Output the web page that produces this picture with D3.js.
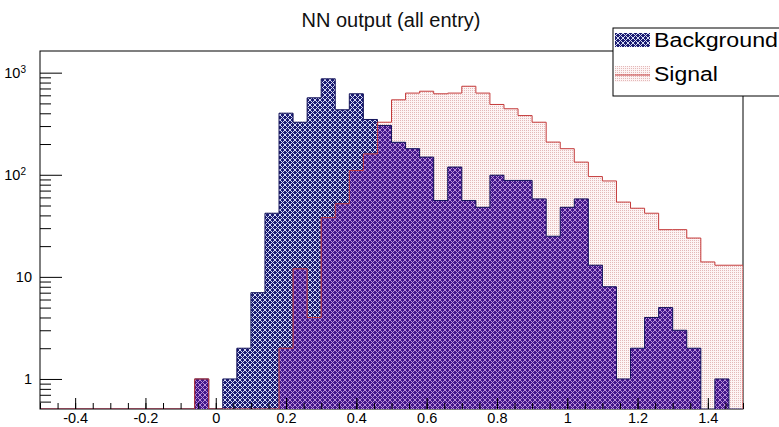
<!DOCTYPE html>
<html>
<head>
<meta charset="utf-8">
<script src="https://cdn.jsdelivr.net/npm/d3@7/dist/d3.min.js"></script>
<style>
  body { margin: 0; background: #fff; }
  svg { display: block; font-family: "Liberation Sans", Arial, Helvetica, sans-serif; }
</style>
</head>
<body>
<div id="chart"></div>
<script>
// DATA: 50 bins of width 0.04 from -0.5 to 1.5
const binLow = -0.5;
const binWidth = 0.04;
const background = [
  0, 0, 0, 0, 0, 0, 0, 0, 0, 0,
  0, 1, 0, 1, 2, 7, 42, 401, 327, 567,
  870, 433, 621, 348, 304, 208, 180, 149, 56, 119,
  56, 48, 99, 88, 88, 58, 25, 48, 58, 13,
  8, 1, 2, 4, 5, 3, 2, 0, 1, 0
];
const signal = [
  0, 0, 0, 0, 0, 0, 0, 0, 0, 0,
  0, 1, 0, 0, 0, 0, 0, 2, 12, 4,
  38, 52, 110, 160, 327, 542, 631, 658, 621, 631,
  736, 631, 488, 443, 380, 327, 209, 180, 133, 96,
  87, 54, 47, 42, 29, 29, 24, 14, 13, 13
];
const seriesNames = ["Background", "Signal"];
const chartTitle = "NN output (all entry)";
const xTickValues = [-0.4, -0.2, 0, 0.2, 0.4, 0.6, 0.8, 1, 1.2, 1.4];
const xTickLabels = ["-0.4", "-0.2", "0", "0.2", "0.4", "0.6", "0.8", "1", "1.2", "1.4"];
const yTickValues = [1, 10, 100, 1000];
const yTickBase = ["1", "10", "10", "10"];
const yTickExp = ["", "", "2", "3"];

var width = 779,
  height = 427;
var frame = { left: 40, right: 743, top: 51, bottom: 409 };

var svg = d3
  .select("#chart")
  .append("svg")
  .attr("width", width)
  .attr("height", height);

// PATTERNS (ROOT-like hatch / dots)
var defs = svg.append("defs");

function crossHatch(id, base, line) {
  var p = defs
    .append("pattern")
    .attr("id", id)
    .attr("patternUnits", "userSpaceOnUse")
    .attr("width", 5)
    .attr("height", 5);
  p.append("rect").attr("width", 5).attr("height", 5).attr("fill", base);
  p.append("path")
    .attr("d", "M0,0L5,5M5,0L0,5")
    .attr("stroke", line)
    .attr("stroke-width", 1);
}
crossHatch("bgPat", "#1b1b72", "#d6dcf4");
crossHatch("ovPat", "#42168a", "#b98fd8");

var dots = defs
  .append("pattern")
  .attr("id", "sigPat")
  .attr("patternUnits", "userSpaceOnUse")
  .attr("width", 2)
  .attr("height", 2);
dots.append("rect").attr("width", 2).attr("height", 2).attr("fill", "#fdf4f4");
dots.append("rect").attr("width", 1).attr("height", 1).attr("fill", "#e3b8b8");

defs
  .append("clipPath")
  .attr("id", "frameClip")
  .append("rect")
  .attr("x", frame.left)
  .attr("y", frame.top)
  .attr("width", frame.right - frame.left)
  .attr("height", frame.bottom - frame.top);

// SCALES
var x = d3.scaleLinear().domain([-0.5, 1.5]).range([frame.left, frame.right]);
var y = d3.scaleLog().domain([0.508, 1630]).range([frame.bottom, frame.top]);
var yFloor = y.domain()[0];

var binEdges = d3.range(background.length + 1).map((i) => binLow + i * binWidth);

function stepPoints(vals) {
  var pts = [];
  vals.forEach((v, i) => {
    pts.push({ x: binEdges[i], v: v });
    pts.push({ x: binEdges[i + 1], v: v });
  });
  return pts;
}

var area = d3
  .area()
  .x((d) => x(d.x))
  .y0(y(yFloor))
  .y1((d) => y(Math.max(d.v, yFloor)));

var line = d3
  .line()
  .x((d) => x(d.x))
  .y((d) => y(Math.max(d.v, yFloor)));

function outline(vals) {
  var pts = stepPoints(vals);
  pts.unshift({ x: binEdges[0], v: 0 });
  pts.push({ x: binEdges[binEdges.length - 1], v: 0 });
  return line(pts);
}

// where both histograms cover the same bin the patterns mix to purple
var overlap = background.map((b, i) => Math.min(b, signal[i]));

// FRAME
svg
  .append("rect")
  .attr("x", frame.left)
  .attr("y", frame.top)
  .attr("width", frame.right - frame.left)
  .attr("height", frame.bottom - frame.top)
  .attr("fill", "white")
  .attr("stroke", "#000")
  .attr("stroke-width", 1);

// HISTOGRAMS
var g = svg.append("g").attr("clip-path", "url(#frameClip)");

g.append("path").attr("d", area(stepPoints(signal))).attr("fill", "url(#sigPat)");
g.append("path").attr("d", area(stepPoints(background))).attr("fill", "url(#bgPat)");
g.append("path").attr("d", area(stepPoints(overlap))).attr("fill", "url(#ovPat)");

g.append("path")
  .attr("d", outline(background))
  .attr("fill", "none")
  .attr("stroke", "#14145a")
  .attr("stroke-width", 1);

g.append("path")
  .attr("d", outline(signal))
  .attr("fill", "none")
  .attr("stroke", "#c43a3a")
  .attr("stroke-width", 1);

// X AXIS
var xMinor = d3.range(-0.5, 1.5001, 0.05);
svg
  .append("g")
  .attr("transform", `translate(0, ${frame.bottom})`)
  .call(d3.axisBottom(x).tickValues(xMinor).tickSize(-6).tickFormat(""))
  .call((a) => a.select(".domain").remove());

svg
  .append("g")
  .attr("class", "xAxis")
  .attr("transform", `translate(0, ${frame.bottom})`)
  .call(
    d3
      .axisBottom(x)
      .tickValues(xTickValues)
      .tickSize(-11)
      .tickPadding(4)
      .tickFormat((d, i) => xTickLabels[i])
  )
  .call((a) => a.select(".domain").remove())
  .selectAll("text")
  .attr("font-size", 14.5)
  .attr("font-family", "Liberation Sans, Arial, sans-serif")
  .attr("fill", "#000");

// Y AXIS
var yMinor = [];
[0.1, 1, 10, 100, 1000].forEach((dec) => {
  d3.range(2, 10).forEach((m) => {
    var v = dec * m;
    if (v > y.domain()[0] && v < y.domain()[1]) yMinor.push(v);
  });
});

svg
  .append("g")
  .attr("transform", `translate(${frame.left}, 0)`)
  .call(d3.axisLeft(y).tickValues(yMinor).tickSize(-11).tickFormat(""))
  .call((a) => a.select(".domain").remove());

var yAxis = svg
  .append("g")
  .attr("transform", `translate(${frame.left}, 0)`)
  .call(d3.axisLeft(y).tickValues(yTickValues).tickSize(-22).tickPadding(8).tickFormat(""))
  .call((a) => a.select(".domain").remove());

yAxis
  .selectAll(".tick text")
  .attr("font-size", 14.5)
  .attr("font-family", "Liberation Sans, Arial, sans-serif")
  .attr("fill", "#000")
  .each(function (d, i) {
    var t = d3.select(this);
    t.text(yTickBase[i]);
    if (yTickExp[i]) {
      t.attr("x", -14);
      t.append("tspan").attr("font-size", 10).attr("dy", "-0.45em").text(yTickExp[i]);
    }
  });

svg.selectAll(".tick line").attr("stroke", "#000");

// TITLE
svg
  .append("text")
  .attr("x", 391)
  .attr("y", 27)
  .attr("text-anchor", "middle")
  .attr("font-size", 20)
  .attr("fill", "#111")
  .text(chartTitle);

// LEGEND
var legend = svg.append("g").attr("transform", "translate(613, 28)");

legend
  .append("rect")
  .attr("x", 0)
  .attr("y", 0)
  .attr("width", 180)
  .attr("height", 68)
  .attr("fill", "white")
  .attr("stroke", "#000")
  .attr("stroke-width", 1);

legend
  .append("rect")
  .attr("x", 2)
  .attr("y", 5)
  .attr("width", 35)
  .attr("height", 14)
  .attr("fill", "url(#bgPat)");

legend
  .append("rect")
  .attr("x", 2)
  .attr("y", 38)
  .attr("width", 35)
  .attr("height", 16)
  .attr("fill", "url(#sigPat)");

legend
  .append("line")
  .attr("x1", 2)
  .attr("x2", 37)
  .attr("y1", 47)
  .attr("y2", 47)
  .attr("stroke", "#c43a3a")
  .attr("stroke-width", 1);

legend
  .selectAll(".legend-text")
  .data(seriesNames)
  .enter()
  .append("text")
  .attr("class", "legend-text")
  .attr("x", 41)
  .attr("y", (d, i) => 19 + i * 34)
  .attr("font-size", 20)
  .attr("fill", "#000")
  .attr("textLength", (d, i) => [124, 64][i])
  .attr("lengthAdjust", "spacingAndGlyphs")
  .text((d) => d);
</script>
</body>
</html>
